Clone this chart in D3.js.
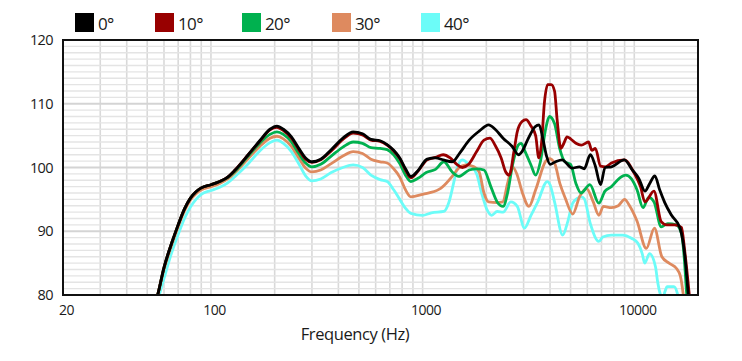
<!DOCTYPE html>
<html>
<head>
<meta charset="utf-8">
<script src="https://cdn.jsdelivr.net/npm/d3@7"></script>
<style>
  body { margin: 0; background: #fff; }
  text { font-family: "Open Sans", sans-serif; fill: #1a1a1a; }
</style>
</head>
<body>
<div class="chart"></div>
<script>
// series names + colours
var seriesNames = ["0°", "10°", "20°", "30°", "40°"];
var seriesColors = ["#000000", "#980000", "#00b14f", "#de8a5f", "#6cfcf8"];

// frequency (Hz), level (dB) pairs
var spl0 = [[50,75],[56,80],[60,84.3],[65,88],[70,91],[75,93.5],[80,95.2],[85,96.2],[90,96.8],[100,97.3],[110,97.8],[120,98.5],[130,99.6],[150,102],[170,104.2],[190,106],[205,106.5],[220,106],[240,104.8],[260,103],[280,101.5],[300,100.9],[330,101.3],[370,102.8],[420,104.6],[470,105.6],[520,105.3],[570,104.4],[630,104.2],[680,103.6],[730,102.7],[780,101.5],[830,99.8],[880,98.6],[950,99.5],[1050,101.3],[1150,101.5],[1250,101.2],[1380,100.9],[1500,102.3],[1660,104.3],[1850,105.7],[2050,106.7],[2200,106],[2400,104.6],[2650,103.3],[2840,102],[2950,102.5],[3150,104.5],[3400,106.4],[3550,106.7],[3700,104.5],[3850,101.8],[4000,100.5],[4250,100.9],[4560,101.2],[5080,99.9],[5500,100.1],[5800,99.8],[6200,102],[6550,100.2],[6930,97.3],[7280,100],[7800,100.1],[8970,101.2],[9800,99.6],[10500,98.3],[11230,96.3],[11830,97.5],[12500,98.7],[13180,96.5],[13930,94.5],[15000,92.5],[16450,90.5],[17350,86],[18000,80],[18500,76]];

var spl10 = [[50,75],[56,80],[60,84.3],[65,88],[70,91],[75,93.5],[80,95.2],[85,96.2],[90,96.8],[100,97.3],[110,97.8],[120,98.5],[130,99.6],[150,102],[170,104.1],[190,105.9],[205,106.3],[220,105.8],[240,104.6],[260,102.8],[280,101.3],[300,100.8],[330,101.2],[370,102.6],[420,104.4],[470,105.4],[520,105.1],[570,104.3],[630,104.1],[680,103.5],[730,102.6],[780,101.4],[830,99.6],[880,98.4],[950,99.4],[1050,101.2],[1150,101.6],[1250,102],[1350,101.5],[1450,100.5],[1540,100],[1650,100.5],[1800,102.5],[1950,104.3],[2080,104.6],[2200,103.5],[2350,101.5],[2470,99.3],[2570,98.8],[2700,102.5],[2800,105.6],[2950,107.2],[3080,107.5],[3250,106.5],[3420,105],[3540,101.5],[3650,104],[3760,110.1],[3900,113],[4050,113],[4200,112],[4320,107.5],[4500,103],[4650,103.8],[4810,104.8],[5000,104.5],[5300,103.8],[5620,103.5],[6080,104],[6300,102.7],[6550,103],[6930,100.2],[7300,100.1],[7800,100.7],[8970,101.2],[10000,99.1],[10700,97],[11230,94.6],[12380,96.3],[13400,91.5],[14200,91],[15500,91],[16700,90.6],[17300,87],[18200,80],[18700,76]];

var spl20 = [[50,75],[56,80],[60,84.3],[65,88],[70,91],[75,93.5],[80,95.2],[85,96.2],[90,96.8],[100,97.3],[110,97.8],[120,98.4],[130,99.4],[150,101.8],[170,103.8],[190,105.2],[205,105.6],[220,105.2],[240,104],[260,102.2],[280,100.7],[300,100.1],[330,100.5],[370,101.8],[420,103.2],[470,104],[520,103.8],[570,103.1],[630,103],[680,102.8],[730,102],[780,100.6],[830,98.8],[880,97.8],[950,98.3],[1040,99.2],[1150,99.7],[1260,100.9],[1380,99.3],[1480,98.6],[1660,99.6],[1800,99.8],[1950,99.6],[2100,97],[2250,94.6],[2400,93.9],[2520,96],[2660,100.4],[2830,103.5],[2920,103.8],[3050,102.5],[3250,100.4],[3420,98.8],[3600,100.9],[3815,106.1],[3970,108],[4200,106.9],[4440,103],[4700,100.9],[5000,100.5],[5300,97.5],[5600,96],[6170,97.3],[6800,94.4],[7270,96.3],[7800,97],[8500,98.3],[9100,98.8],[9700,98.2],[10300,96.5],[11000,93.7],[11700,95.3],[12400,94.6],[13400,90.7],[14400,91.2],[15800,91],[16750,89.5],[17200,86],[17700,80],[18200,76]];

var spl30 = [[50,75],[56,80],[60,84],[65,87.7],[70,90.7],[75,93.2],[80,94.9],[85,95.9],[90,96.5],[100,97],[110,97.5],[120,98.2],[130,99.2],[150,101.4],[170,103.3],[190,104.6],[205,104.9],[220,104.5],[240,103.3],[260,101.5],[280,99.9],[300,99.3],[330,99.6],[370,100.6],[420,101.8],[470,102.5],[520,102.2],[570,101.3],[630,100.9],[680,100.7],[730,99.8],[780,98.5],[830,96.5],[880,95.4],[1000,95.8],[1200,96.6],[1290,97.5],[1380,98.6],[1480,99.9],[1600,100.4],[1750,100.1],[1850,99.3],[1950,96],[2050,94.6],[2250,94.5],[2390,94.6],[2520,97.5],[2660,100.1],[2800,98.8],[2950,96.2],[3180,93.9],[3420,96.5],[3815,101],[3970,101.4],[4200,100.7],[4450,97.5],[4720,95.2],[5120,92.7],[5530,95.5],[5950,96.7],[6400,94.6],[6800,92.5],[7150,93.9],[7800,93.7],[8400,94],[9000,95],[9500,94],[10300,91.6],[11400,87.3],[12450,90.5],[13500,86],[14600,85],[15800,84.2],[16500,83],[17000,80.3],[17500,76]];

var spl40 = [[50,74],[57,80],[60,82.6],[65,86.5],[70,89.5],[75,92],[80,93.8],[85,95],[90,95.8],[100,96.4],[110,96.9],[120,97.6],[130,98.6],[150,100.6],[170,102.6],[190,103.9],[205,104.3],[220,103.8],[240,102.5],[260,100.6],[280,98.7],[300,97.9],[330,98.2],[370,99.2],[420,100],[470,100.4],[520,100],[570,98.8],[630,98.1],[680,97.8],[730,96.5],[780,95],[830,93.6],[880,92.8],[1000,92.5],[1100,92.9],[1260,93.1],[1330,94.5],[1400,97.5],[1460,100.1],[1540,101.2],[1660,100.4],[1800,99],[1900,96],[2020,93.3],[2120,92.5],[2250,93.1],[2400,93],[2610,94.6],[2800,93.9],[3030,90.5],[3250,92.5],[3500,94.6],[3880,97.8],[4000,97.3],[4200,94.6],[4590,89.4],[4850,91.5],[5100,94.3],[5400,95.2],[5620,95.4],[5800,95.1],[6200,91.2],[6800,88.4],[7100,89.1],[7800,89.4],[8800,89.4],[9700,88.9],[10400,88.1],[10900,86.5],[11200,85],[11800,86.5],[12600,84.4],[12900,82],[13300,80],[13600,79.3],[13950,80.5],[14300,81.3],[15400,81.3],[15900,80.5],[16300,79],[17000,76]];

var xTicks = [20, 100, 1000, 10000];
var yTicks = [80, 90, 100, 110, 120];

var allSeries = [spl0, spl10, spl20, spl30, spl40];

var svgWidth = 742;
var svgHeight = 361;
var margin = { top: 40, right: 44, bottom: 66, left: 63 };
var width = svgWidth - margin.left - margin.right;
var height = svgHeight - margin.top - margin.bottom;

var svg = d3.select(".chart")
  .append("svg")
  .attr("width", svgWidth)
  .attr("height", svgHeight);

var chartGroup = svg.append("g")
  .attr("transform", `translate(${margin.left}, ${margin.top})`);

var xScale = d3.scaleLog().domain([20, 20000]).range([0, width]);
var yScale = d3.scaleLinear().domain([80, 120]).range([height, 0]);

// grid: vertical lines at 1-2-3..9 per decade
var vGrid = [];
[10, 100, 1000, 10000].forEach(function(dec) {
  for (var k = 1; k < 10; k++) {
    var f = dec * k;
    if (f > 20 && f < 20000) vGrid.push(f);
  }
});
chartGroup.append("g").selectAll("line")
  .data(vGrid)
  .enter()
  .append("line")
  .attr("x1", d => xScale(d)).attr("x2", d => xScale(d))
  .attr("y1", 0).attr("y2", height)
  .attr("stroke", "#d9d9d9")
  .attr("stroke-width", 1.6);

var hGrid = d3.range(81, 120);
chartGroup.append("g").selectAll("line")
  .data(hGrid)
  .enter()
  .append("line")
  .attr("x1", 0).attr("x2", width)
  .attr("y1", d => yScale(d)).attr("y2", d => yScale(d))
  .attr("stroke", d => d % 10 === 0 ? "#d4d4d4" : "#e4e4e4")
  .attr("stroke-width", d => d % 10 === 0 ? 2 : 1.3);

// clip lines to the frame
chartGroup.append("clipPath").attr("id", "plotClip")
  .append("rect").attr("width", width).attr("height", height);

var line = d3.line()
  .x(d => xScale(d[0]))
  .y(d => yScale(d[1]))
  .curve(d3.curveMonotoneX);

// draw 40° first so 0° ends up on top
var order = [4, 3, 2, 1, 0];
chartGroup.append("g").attr("clip-path", "url(#plotClip)")
  .selectAll("path")
  .data(order)
  .enter()
  .append("path")
  .attr("d", i => line(allSeries[i]))
  .attr("fill", "none")
  .attr("stroke", i => seriesColors[i])
  .attr("stroke-width", 2.8)
  .attr("stroke-linejoin", "round");

// frame
chartGroup.append("rect")
  .attr("width", width).attr("height", height)
  .attr("fill", "none")
  .attr("stroke", "#111")
  .attr("stroke-width", 2);

// axes
var xAxis = d3.axisBottom(xScale).tickValues(xTicks).tickSize(0).tickPadding(10).tickFormat(d3.format("d"));
var yAxis = d3.axisLeft(yScale).tickValues(yTicks).tickSize(0).tickPadding(10);

var gx = chartGroup.append("g")
  .attr("transform", `translate(0, ${height})`)
  .call(xAxis);
gx.select(".domain").remove();
gx.selectAll("text").attr("dx", 3)
  .style("font-family", "'Open Sans', sans-serif")
  .style("font-size", "14px").style("letter-spacing", "-0.5px")
  .attr("fill", "#1a1a1a");

var gy = chartGroup.append("g").call(yAxis);
gy.select(".domain").remove();
gy.selectAll("text")
  .style("font-family", "'Open Sans', sans-serif")
  .style("font-size", "14.5px").style("letter-spacing", "-0.6px")
  .attr("fill", "#1a1a1a");

chartGroup.append("text")
  .attr("x", 355 - margin.left)
  .attr("y", 340 - margin.top)
  .attr("text-anchor", "middle")
  .style("font-size", "16.5px")
  .style("letter-spacing", "-0.4px")
  .text("Frequency (Hz)");

// legend
var legendX = [75, 155, 242, 332, 421];
var legend = svg.append("g");
seriesNames.forEach(function(name, i) {
  legend.append("rect")
    .attr("x", legendX[i]).attr("y", 13)
    .attr("width", 19).attr("height", 19)
    .attr("fill", seriesColors[i]);
  legend.append("text")
    .attr("x", legendX[i] + 23).attr("y", 30)
    .style("font-size", "17px")
    .style("letter-spacing", "-0.6px")
    .text(name);
});
</script>
</body>
</html>
